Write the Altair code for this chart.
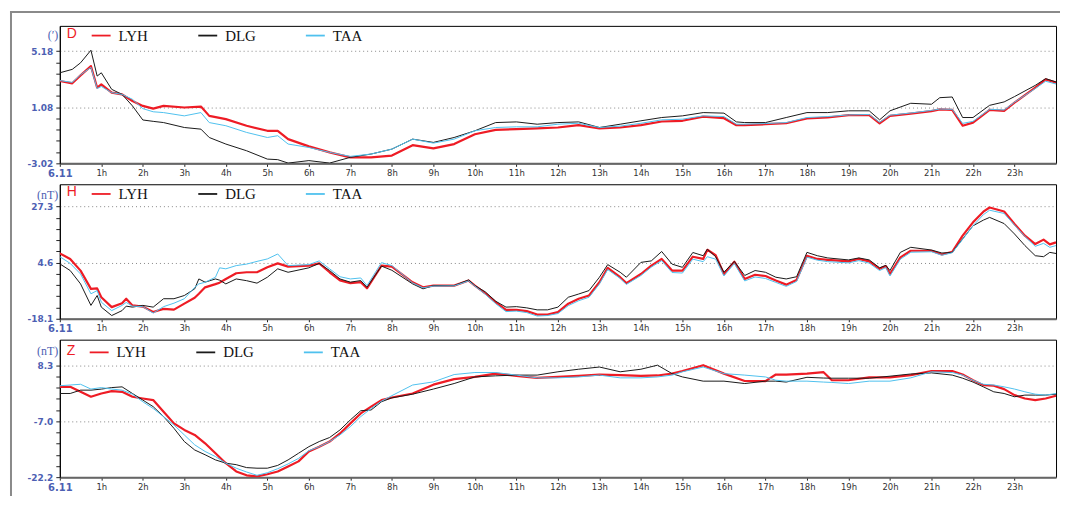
import altair as alt
import pandas as pd

SERIES = ["LYH", "DLG", "TAA"]
COLORS = ["#ee1c25", "#1a1a1a", "#4fc1ee"]
RED = "#ee1c25"
BLUE = "#4d5fb3"

HOURS = list(range(24))
X_LABELS = ["6.11"] + [f"{h}h" for h in range(1, 24)]

# ---------------- D panel (declination, arc-minutes) ----------------
D_HOURS = [0, 0.3, 0.5, 0.75, 0.9, 1.0, 1.25, 1.5, 1.75, 2.0,
           2.25, 2.5, 3.0, 3.4, 3.6, 4.0, 4.5, 5.0, 5.25, 5.5,
           6.0, 6.5, 7.0, 7.5, 8.0, 8.5, 9.0, 9.5, 10, 10.5,
           11, 11.5, 12, 12.5, 13, 13.5, 14, 14.5, 15, 15.5,
           16, 16.3, 16.5, 17, 17.5, 18, 18.5, 19, 19.5, 19.75,
           20, 20.5, 21, 21.2, 21.5, 21.75, 22, 22.4, 22.75, 23,
           23.5, 23.75, 24]
D_LYH = [3.00, 2.83, 3.41, 4.09, 2.51, 2.75, 2.15, 2.02, 1.54, 1.18,
         0.98, 1.18, 1.06, 1.13, 0.45, 0.21, -0.27, -0.64, -0.64, -1.25,
         -1.78, -2.22, -2.58, -2.58, -2.45, -1.69, -1.93, -1.61, -0.89, -0.57,
         -0.52, -0.47, -0.40, -0.23, -0.47, -0.40, -0.23, 0.04, 0.09, 0.40,
         0.28, -0.23, -0.23, -0.16, -0.09, 0.26, 0.33, 0.50, 0.50, -0.09,
         0.45, 0.62, 0.80, 0.93, 0.89, -0.27, -0.04, 0.89, 0.82, 1.42,
         2.51, 3.12, 2.88]
D_DLG = [3.60, 3.85, 4.33, 5.25, 3.36, 3.60, 2.39, 2.02, 1.18, 0.15,
         0.05, -0.04, -0.40, -0.52, -1.13, -1.61, -2.10, -2.71, -2.75, -3.00,
         -2.82, -3.00, -2.58, -2.34, -1.98, -1.25, -1.49, -1.13, -0.64, -0.04,
         0.01, -0.16, -0.04, 0.01, -0.40, -0.16, 0.09, 0.33, 0.45, 0.69,
         0.65, 0.01, -0.04, -0.04, 0.33, 0.69, 0.69, 0.82, 0.82, 0.16,
         0.82, 1.37, 1.30, 1.78, 1.83, 0.33, 0.33, 1.22, 1.47, 1.86,
         2.68, 3.17, 2.93]
D_TAA = [3.03, 2.90, 3.45, 4.00, 2.45, 2.60, 2.15, 2.02, 1.66, 0.98,
         0.75, 0.69, 0.45, 0.69, -0.04, -0.27, -0.76, -1.13, -1.00, -1.61,
         -1.86, -2.22, -2.51, -2.34, -1.98, -1.25, -1.54, -1.25, -0.64, -0.40,
         -0.35, -0.35, -0.16, -0.09, -0.40, -0.30, -0.09, 0.16, 0.21, 0.45,
         0.40, -0.16, -0.16, -0.11, -0.04, 0.33, 0.40, 0.52, 0.55, -0.02,
         0.50, 0.66, 0.85, 0.95, 0.93, -0.10, 0.05, 0.93, 0.88, 1.45,
         2.45, 2.98, 2.78]
D_MAJORS = [-3.02, 1.08, 5.18]
D_TICK_LABELS = ["-3.02", "1.08", "5.18"]

# ---------------- H panel (nT) ----------------
H_HOURS = [0, 0.25, 0.5, 0.75, 0.9, 1.0, 1.25, 1.5, 1.6, 1.75,
           2.0, 2.25, 2.5, 2.75, 3.0, 3.25, 3.35, 3.5, 3.75, 3.85,
           4.0, 4.25, 4.5, 4.75, 5.0, 5.25, 5.5, 6.0, 6.25, 6.5,
           6.75, 7.0, 7.25, 7.4, 7.75, 8.0, 8.5, 8.75, 9.0, 9.5,
           9.85, 10.0, 10.25, 10.5, 10.75, 11.0, 11.25, 11.5, 11.75, 12.0,
           12.25, 12.5, 12.75, 13.0, 13.2, 13.5, 13.65, 14.0, 14.25, 14.5,
           14.75, 15.0, 15.25, 15.5, 15.6, 15.8, 16.0, 16.25, 16.5, 16.75,
           17.0, 17.25, 17.5, 17.75, 18.0, 18.25, 18.5, 19.0, 19.25, 19.5,
           19.75, 19.9, 20.0, 20.25, 20.5, 21.0, 21.25, 21.5, 21.75, 22.0,
           22.25, 22.4, 22.75, 23.0, 23.25, 23.5, 23.7, 23.85, 24.0]
H_LYH = [8.35, 6.09, 1.37, -6.0, -5.8, -9.4, -13.4, -11.8, -10.0, -12.7,
         -13.2, -15.4, -14.1, -14.4, -12.0, -9.6, -8.0, -5.4, -4.1, -3.5,
         -2.0, 0.3, 0.7, 0.7, 2.7, 4.3, 3.0, 3.4, 4.3, 0.7,
         -2.6, -3.7, -3.3, -5.8, 3.4, 3.0, -3.35, -5.4, -4.7, -4.7,
         -2.65, -4.7, -7.8, -11.4, -14.5, -14.5, -15.0, -16.4, -16.4, -15.4,
         -12.0, -10.0, -8.7, -3.35, 2.5, -1.3, -3.7, 0.0, 3.4, 6.1,
         1.4, 1.4, 7.0, 6.1, 9.8, 7.6, 0.0, 5.0, -2.0, -0.3,
         -0.8, -2.65, -4.3, -2.4, 7.4, 6.1, 5.7, 5.1, 6.1, 5.1,
         2.1, 3.2, 0.0, 6.7, 9.4, 9.4, 7.9, 9.0, 15.5, 20.9,
         25.2, 26.9, 25.3, 20.2, 15.5, 12.1, 13.9, 12.0, 12.8]
H_DLG = [4.1, 1.4, -4.0, -12.7, -8.7, -13.4, -16.8, -14.8, -13.0, -13.4,
         -12.7, -13.4, -10.0, -10.0, -8.7, -6.0, -2.0, -3.3, -2.0, -2.5,
         -4.0, -2.0, -2.7, -3.7, -1.3, 2.1, 0.7, 2.5, 4.3, 1.4,
         -2.0, -3.3, -2.65, -5.4, 3.2, 1.5, -4.0, -6.0, -4.7, -4.7,
         -2.4, -4.7, -7.2, -11.0, -13.4, -13.2, -13.7, -14.5, -14.5, -13.4,
         -9.4, -8.1, -6.7, -1.3, 3.8, 0.7, -1.3, 4.7, 5.3, 9.1,
         4.0, 2.7, 8.7, 7.4, 10.0, 7.0, 0.7, 5.1, -0.6, 1.4,
         0.7, -1.3, -2.0, -1.1, 8.75, 7.4, 6.5, 5.7, 6.5, 5.7,
         2.5, 3.5, 1.4, 8.75, 10.8, 9.7, 8.5, 8.75, 14.2, 19.5,
         21.8, 22.9, 20.4, 16.2, 11.5, 7.4, 7.0, 8.75, 8.3]
H_TAA = [7.0, 4.3, 0.0, -8.0, -6.7, -11.4, -14.8, -12.7, -11.5, -13.0,
         -13.2, -15.8, -13.2, -11.8, -10.0, -5.4, -4.0, -3.35, -1.3, 2.5,
         2.1, 3.4, 4.0, 5.1, 6.1, 8.1, 3.4, 3.8, 5.3, 2.1,
         -1.1, -2.0, -1.6, -4.7, 4.6, 3.4, -3.6, -5.6, -4.9, -4.8,
         -2.8, -4.9, -8.2, -12.0, -15.2, -15.0, -15.6, -17.0, -16.8, -16.0,
         -12.8, -10.8, -9.4, -4.0, 1.8, -1.8, -4.2, -0.6, 2.8, 5.4,
         0.6, 0.4, 6.0, 5.0, 7.0, 6.0, -0.8, 4.2, -2.8, -1.2,
         -1.8, -3.4, -5.0, -3.0, 6.8, 5.6, 5.0, 4.5, 5.4, 4.4,
         1.4, 2.6, -0.8, 6.0, 8.8, 9.0, 7.6, 8.6, 14.0, 19.5,
         24.0, 25.8, 24.5, 19.8, 15.2, 11.2, 12.4, 10.8, 11.5]
H_MAJORS = [-18.1, 4.6, 27.3]
H_TICK_LABELS = ["-18.1", "4.6", "27.3"]

# ---------------- Z panel (nT) ----------------
Z_HOURS = [0, 0.25, 0.5, 0.75, 1.0, 1.25, 1.5, 1.75, 2.0, 2.25,
           2.5, 2.75, 3.0, 3.25, 3.5, 3.75, 4.0, 4.25, 4.5, 4.75,
           5.0, 5.25, 5.5, 5.75, 6.0, 6.25, 6.5, 6.75, 7.0, 7.25,
           7.5, 7.75, 8.0, 8.5, 9.0, 9.5, 10.0, 10.5, 11.0, 11.5,
           12.0, 12.5, 13.0, 13.5, 14.0, 14.4, 14.75, 15.0, 15.5, 16.0,
           16.5, 17.0, 17.25, 17.5, 18.0, 18.4, 18.6, 19.0, 19.5, 20.0,
           20.5, 21.0, 21.5, 21.75, 22.0, 22.25, 22.5, 22.75, 23.0, 23.25,
           23.5, 23.75, 24.0]
Z_LYH = [2.4, 2.4, 1.05, -0.3, 0.59, 1.24, 1.05, -0.3, -0.77, -1.2,
         -4.38, -7.55, -9.34, -10.7, -12.98, -15.7, -18.4, -20.65, -21.7, -22.0,
         -21.4, -20.65, -19.3, -17.9, -15.2, -13.9, -12.5, -10.3, -7.55, -4.84,
         -3.0, -1.2, -0.5, 0.59, 3.0, 4.5, 5.1, 6.0, 5.4, 4.85,
         5.1, 5.4, 5.75, 5.6, 5.4, 5.5, 6.0, 6.7, 8.3, 6.0,
         4.0, 3.95, 5.75, 5.75, 6.0, 6.4, 4.2, 4.2, 5.0, 5.0,
         5.6, 6.7, 6.7, 5.75, 4.2, 2.87, 2.7, 1.78, 0.15, -0.77,
         -1.2, -0.77, -0.03]
Z_DLG = [0.59, 0.59, 1.5, 1.5, 1.78, 2.2, 2.4, 0.59, -1.2, -3.0,
         -5.7, -8.9, -12.5, -14.8, -16.1, -17.5, -18.4, -18.8, -19.6, -19.76,
         -19.76, -19.0, -17.5, -15.7, -13.9, -12.5, -11.4, -9.34, -6.6, -4.1,
         -3.9, -1.66, -0.6, 0.4, 1.8, 3.3, 5.1, 5.4, 5.6, 5.6,
         6.5, 7.2, 7.8, 6.5, 7.2, 8.3, 6.0, 5.1, 3.95, 3.95,
         3.3, 3.95, 3.95, 3.7, 5.0, 4.8, 4.75, 4.75, 4.75, 5.3,
         5.9, 6.2, 5.6, 4.75, 3.7, 2.4, 1.05, 0.59, -0.3, 0.15,
         0.15, 0.15, 0.4]
Z_TAA = [2.7, 2.9, 3.1, 1.8, 2.2, 1.8, 1.5, 0.4, -1.66, -3.5,
         -5.7, -8.0, -10.7, -13.4, -15.2, -16.6, -18.4, -19.76, -20.8, -21.7,
         -21.0, -19.9, -18.6, -17.1, -15.0, -13.9, -12.5, -10.7, -8.45, -5.7,
         -3.5, -1.5, 0.0, 2.9, 3.75, 5.75, 6.3, 6.3, 5.6, 4.85,
         4.85, 5.1, 5.6, 4.85, 4.85, 5.1, 5.6, 6.5, 7.8, 6.0,
         5.6, 5.1, 4.2, 3.95, 3.95, 3.7, 3.6, 3.3, 3.95, 3.95,
         4.85, 6.5, 6.3, 5.6, 4.2, 3.1, 2.9, 2.4, 1.8, 1.05,
         0.4, 0.15, 0.59]
Z_MAJORS = [-22.2, -7.0, 8.3]
Z_TICK_LABELS = ["-22.2", "-7.0", "8.3"]

X_EXPR = "[" + ",".join(f"'{s}'" for s in X_LABELS) + "][datum.value]"


def make_panel(letter, unit, hours, lyh, dlg, taa, majors, major_labels,
               top, height, legend_y, title_y, frame=False):
    n = len(hours)
    df = pd.DataFrame({
        "hour": list(hours) * 3,
        "value": list(lyh) + list(dlg) + list(taa),
        "series": ["LYH"] * n + ["DLG"] * n + ["TAA"] * n,
    })
    lo, mid, hi = majors
    ticks = [round(lo + i * (mid - lo) / 5, 4) for i in range(5)] + \
            [round(mid + i * (hi - mid) / 5, 4) for i in range(6)]
    eps = abs(mid - lo) / 50
    tests = [f"abs(datum.value - ({v})) < {eps}" for v in majors]
    label_expr = (f"{tests[0]} ? '{major_labels[0]}' : "
                  f"{tests[1]} ? '{major_labels[1]}' : "
                  f"{tests[2]} ? '{major_labels[2]}' : ''")
    grid_test = f"{tests[1]} || {tests[2]}"

    x_axis = alt.Axis(
        values=HOURS, labelExpr=X_EXPR, title=None, grid=False,
        labelFlush=False, labelOverlap=False, tickSize=3, tickColor="#222",
        domainColor="#666", domainWidth=2, labelPadding=2,
        labelFont="DejaVu Sans",
        labelFontSize={"condition": {"test": "datum.value == 0", "value": 10}, "value": 8.5},
        labelFontWeight={"condition": {"test": "datum.value == 0", "value": "bold"}, "value": "normal"},
        labelColor={"condition": {"test": "datum.value == 0", "value": BLUE}, "value": "#333"},
    )
    y_axis = alt.Axis(
        values=ticks, labelExpr=label_expr, labelOverlap=False,
        title=unit, titleAngle=0, titleAlign="right", titleBaseline="middle",
        titleX=-2, titleY=title_y, titleFont="Liberation Serif", titleFontSize=12,
        titleFontWeight="normal", titleColor=BLUE,
        labelFont="DejaVu Sans", labelFontWeight="bold", labelFontSize=9,
        labelColor=BLUE, labelPadding=3, tickSize=4, tickColor="#222",
        domainColor="#000", grid=True, gridDash=[1, 3], gridColor="#888",
        gridOpacity={"condition": {"test": grid_test, "value": 1}, "value": 0},
    )
    legend = alt.Legend(
        orient="none", legendX=7, legendY=legend_y, direction="horizontal",
        title=letter, titleOrient="left", titleColor=RED, titleFont="Liberation Sans",
        titleFontSize=14, titleFontWeight="normal", titlePadding=13,
        symbolType="stroke", symbolSize=361, symbolStrokeWidth=1.8,
        labelFont="Liberation Serif", labelFontSize=15, labelColor="#111",
        labelOffset=7, columnPadding=46, padding=0,
    )
    lines = alt.Chart(df).mark_line(clip=True, strokeJoin="round").encode(
        x=alt.X("hour:Q", scale=alt.Scale(domain=[0, 24], nice=False), axis=x_axis),
        y=alt.Y("value:Q", scale=alt.Scale(domain=[lo, top], nice=False, zero=False), axis=y_axis),
        color=alt.Color("series:N", scale=alt.Scale(domain=SERIES, range=COLORS),
                        sort=SERIES, legend=legend),
        strokeWidth=alt.condition("datum.series == 'LYH'", alt.value(2.2), alt.value(1.0)),
    )
    layers = [lines]
    if frame:
        one = pd.DataFrame({"k": [0]})
        left = alt.Chart(one).mark_rule(color="#8a8a8a", strokeWidth=2).encode(
            x=alt.value(-49), y=alt.value(-15), y2=alt.value(472))
        topr = alt.Chart(one).mark_rule(color="#8a8a8a", strokeWidth=2).encode(
            x=alt.value(-50), x2=alt.value(1004), y=alt.value(-14))
        layers = [left, topr, lines]
    return alt.layer(*layers).properties(width=1000, height=height)


p1 = make_panel("D", "(\u2032)", D_HOURS, D_LYH, D_DLG, D_TAA, D_MAJORS, D_TICK_LABELS,
                7.03, 138, -1, 9, frame=True)
p2 = make_panel("H", "(nT)", H_HOURS, H_LYH, H_DLG, H_TAA, H_MAJORS, H_TICK_LABELS,
                36.3, 135, -1, 10)
p3 = make_panel("Z", "(nT)", Z_HOURS, Z_LYH, Z_DLG, Z_TAA, Z_MAJORS, Z_TICK_LABELS,
                15.25, 138, 2, 11)

chart = alt.vconcat(p1, p2, p3, spacing=21, bounds="flush").resolve_scale(
    color="independent").resolve_legend(color="independent").properties(
    padding=0, background="white").configure_view(stroke="#000", strokeWidth=1)

chart.save("out.html", embed_options={"renderer": "svg", "actions": False})
